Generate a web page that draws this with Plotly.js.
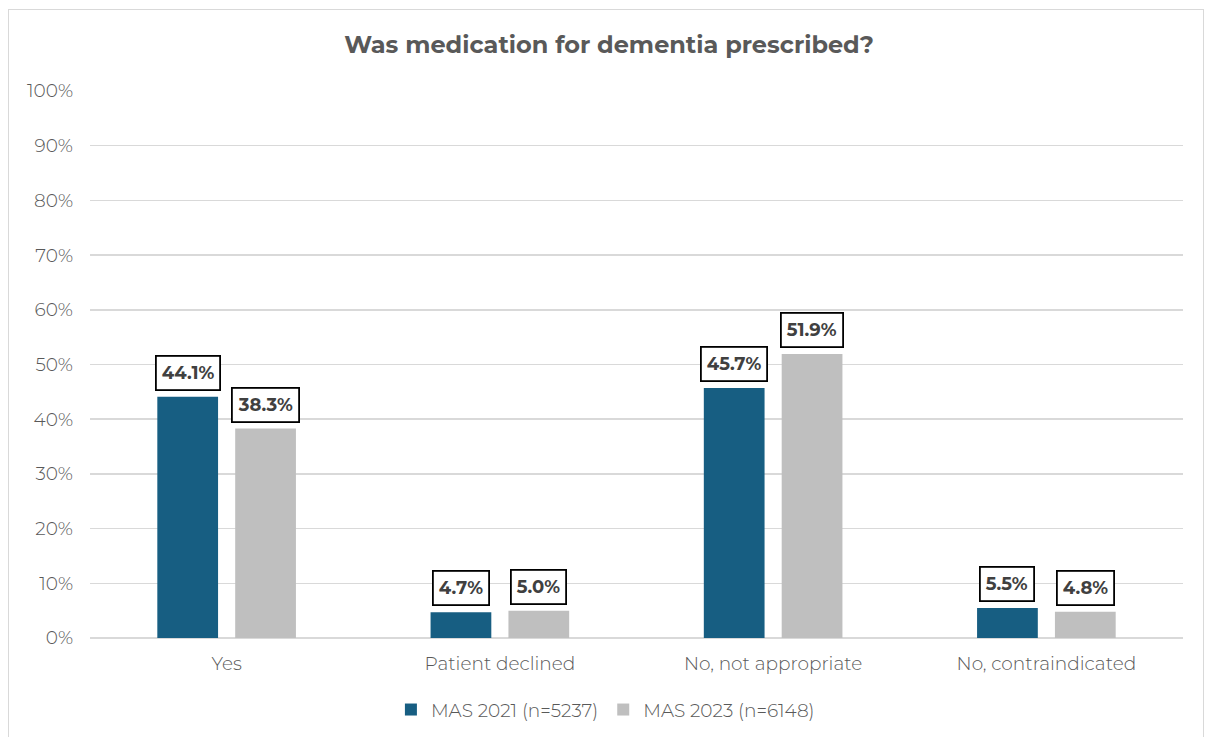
<!DOCTYPE html>
<html><head><meta charset="utf-8">
<script src="https://cdn.plot.ly/plotly-3.0.1.min.js"></script>
<style>body{margin:0;background:#fff}#wrap{position:relative;width:1206px;height:737px}
#chart{width:1206px;height:737px}
#frame{position:absolute;left:8px;top:9px;width:1196px;height:740px;border:1.5px solid #d9d9d9;box-sizing:border-box;pointer-events:none}</style>
</head><body><div id="wrap"><div id="chart"></div><div id="frame"></div></div>
<script>
const categories = ["Yes", "Patient declined", "No, not appropriate", "No, contraindicated"];
const mas2021 = [44.1, 4.7, 45.7, 5.5];
const mas2023 = [38.3, 5.0, 51.9, 4.8];
const seriesNames = ["MAS 2021 (n=5237)", "MAS 2023 (n=6148)"];
const yTicks = [0,10,20,30,40,50,60,70,80,90,100];

const font = "Montserrat, 'Open Sans', sans-serif";
const traces = [
  {type:"bar", x:categories, y:mas2021, name:seriesNames[0], marker:{color:"#175e82"}, hoverinfo:"none"},
  {type:"bar", x:categories, y:mas2023, name:seriesNames[1], marker:{color:"#bfbfbf"}, hoverinfo:"none"}
];
const annotations = [];
[[mas2021,-39],[mas2023,39]].forEach(([vals,shift])=>{
  vals.forEach((v,i)=>annotations.push({x:categories[i], y:v, xref:"x", yref:"y", text:"<b>"+v.toFixed(1)+"%</b>",
    showarrow:false, xshift:shift, yanchor:"bottom", yshift:6, bgcolor:"#fff", bordercolor:"#000", borderwidth:1.8, borderpad:5,
    font:{family:font, size:18, color:"#404040"}}));
});
const layout = {
  width:1206, height:737,
  margin:{l:90, r:23, t:91, b:99},
  paper_bgcolor:"#fff", plot_bgcolor:"#fff",
  title:{text:"<b>Was medication for dementia prescribed?</b>", font:{family:font, size:24, color:"#595959"},
    xref:"container", x:0.505, xanchor:"center", yref:"container", y:1-45/737, yanchor:"middle"},
  barmode:"group", bargap:0.43, bargroupgap:0.22,
  xaxis:{type:"category", showgrid:false, zeroline:false, showline:false, ticks:"", ticklabelstandoff:12,
    tickfont:{family:font, size:18.5, color:"#595959", weight:300}},
  yaxis:{range:[0,100], tickvals:yTicks, ticktext:yTicks.map(t=>t+"%"), showgrid:true, gridcolor:"#d9d9d9", gridwidth:1.5,
    zeroline:true, zerolinecolor:"#d9d9d9", zerolinewidth:1.5, showline:false, ticks:"", ticklabelstandoff:16,
    tickfont:{family:font, size:18.5, color:"#595959", weight:300}},
  showlegend:true,
  legend:{orientation:"h", xref:"container", x:0.502, xanchor:"center", yref:"container", y:1-710/737, yanchor:"middle",
    font:{family:font, size:18.5, color:"#595959", weight:300}, itemwidth:30, traceorder:"normal"},
  annotations:annotations
};
Plotly.newPlot("chart", traces, layout, {staticPlot:true});
</script></body></html>
